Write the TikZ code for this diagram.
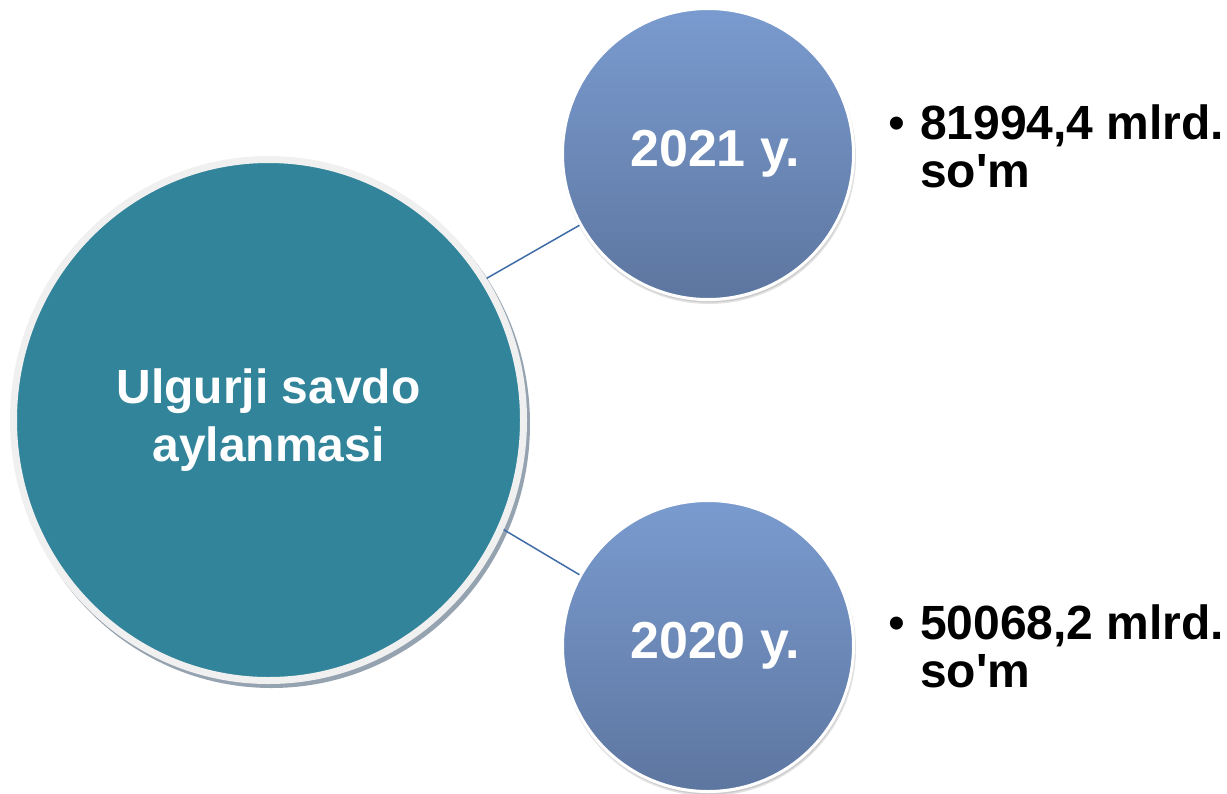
\documentclass[tikz,border=0pt]{standalone}
\usepackage{fontspec}
\setmainfont{Liberation Sans}
\usepackage{tikz}
\usetikzlibrary{positioning,shapes.geometric,shadows}
\definecolor{Teal}{HTML}{32849A}
\definecolor{Ring}{HTML}{F0F0F0}
\definecolor{Shade}{HTML}{95A3B0}
\definecolor{TopBlue}{HTML}{7A9BCF}
\definecolor{BotBlue}{HTML}{5D76A0}
\definecolor{Link}{HTML}{3F6BA6}
\tikzstyle{hub}=[%
      ellipse, draw=Ring, line width=7pt, fill=Teal, text=white,
      font=\fontsize{48}{58}\selectfont\bfseries, align=center,
      minimum width=510pt, minimum height=521pt,
      drop shadow={shadow xshift=3pt, shadow yshift=-4pt, fill=Shade, draw=Shade, line width=7pt, opacity=1}
]
\tikzstyle{year}=[%
      circle, draw=white, line width=3pt, top color=TopBlue, bottom color=BotBlue,
      text=white, font=\fontsize{52}{62}\selectfont\bfseries, minimum size=291pt,
      drop shadow={shadow xshift=1pt, shadow yshift=-3pt, fill=black!45, draw=black!45, line width=3pt, opacity=0.25}
]
\tikzstyle{value}=[%
      anchor=base west, align=left, inner sep=0pt,
      font=\fontsize{48}{48}\selectfont\bfseries
]
\tikzstyle{link}=[draw=Link, line width=1.5pt]

\begin{document}
\begin{tikzpicture}[x=1pt, y=-1pt]
    \useasboundingbox (0,0) rectangle (1227,793);

    \node[hub]  (hub) at (268.5,420) {Ulgurji savdo\\aylanmasi};
    \node[year] (y21) at (708,154)   {\kern14pt 2021 y.};
    \node[year] (y20) at (708,646)   {\kern14pt 2020 y.};

    \node[value] (val21) at (888,187) {\makebox[32pt][l]{\mdseries\textbullet}81994,4 mlrd.\\\hspace*{32pt}so\textquotesingle m};
    \node[value] (val20) at (888,687) {\makebox[32pt][l]{\mdseries\textbullet}50068,2 mlrd.\\\hspace*{32pt}so\textquotesingle m};

    \path (hub.33)  edge[link] (y21.209)
          (hub.335) edge[link] (y20.151);
\end{tikzpicture}
\end{document}
